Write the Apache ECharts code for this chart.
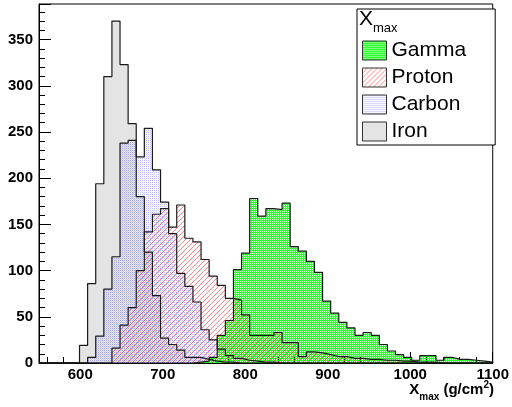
<!DOCTYPE html>
<html>
<head>
<meta charset="utf-8">
<script src="https://cdn.jsdelivr.net/npm/echarts@6/dist/echarts.min.js"></script>
<style>
html, body { margin: 0; padding: 0; background: #fff; }
#chart { width: 512px; height: 407px; }
</style>
</head>
<body>
<div id="chart"></div>
<script>
// Xmax histograms, 56 bins between 550 and 1100 g/cm2
const xLow = 550
const xHigh = 1100
const nBins = 56

const gamma = [0, 0, 0, 0, 0, 0, 0, 0, 0, 0,
    0, 0, 0, 0, 0, 0, 0, 0, 0, 1,
    2, 6, 30, 46, 101, 119, 178, 159, 167, 166,
    173, 126, 121, 110, 98, 67, 54, 44, 38, 30,
    33, 30, 20, 13, 9, 6, 3, 8, 8, 3,
    6, 4, 4, 3, 2, 1]
const proton = [0, 0, 0, 0, 0, 0, 0, 0, 0, 16,
    41, 60, 100, 142, 161, 167, 147, 171, 135, 131,
    112, 94, 84, 70, 68, 52, 30, 30, 30, 33,
    22, 22, 7, 12, 11, 9, 7, 7, 5, 5,
    4, 4, 3, 3, 2, 2, 1, 1, 1, 0,
    0, 0, 0, 0, 0, 0]
const carbon = [0, 0, 0, 0, 0, 0, 6, 29, 80, 115,
    238, 241, 223, 254, 209, 174, 140, 97, 83, 66,
    36, 25, 15, 8, 5, 3, 2, 1, 1, 0,
    0, 0, 0, 0, 0, 0, 0, 0, 0, 0,
    0, 0, 0, 0, 0, 0, 0, 0, 0, 0,
    0, 0, 0, 0, 0, 0]
const iron = [0, 0, 0, 0, 0, 19, 86, 194, 310, 370,
    323, 259, 180, 120, 73, 27, 20, 14, 6, 6,
    4, 2, 1, 1, 0, 0, 0, 0, 0, 0,
    0, 0, 0, 0, 0, 0, 0, 0, 0, 0,
    0, 0, 0, 0, 0, 0, 0, 0, 0, 0,
    0, 0, 0, 0, 0, 0]

const legendNames = ['Gamma', 'Proton', 'Carbon', 'Iron']

// small canvas patterns like the root fill styles
function pattern(size, paint) {
    const c = document.createElement('canvas')
    c.width = size
    c.height = size
    paint(c.getContext('2d'), size)
    return { image: c, repeat: 'repeat' }
}
const greenFill = pattern(2, (ctx) => {
    ctx.fillStyle = '#30ff30'
    ctx.fillRect(0, 0, 2, 1)
    ctx.fillRect(1, 1, 1, 1)
    ctx.fillStyle = 'rgba(40,255,40,0.25)'
    ctx.fillRect(0, 1, 1, 1)
})
const redFill = pattern(5, (ctx, n) => {
    ctx.fillStyle = 'rgba(255,30,30,0.55)'
    for (let k = 0; k < n; k++) ctx.fillRect(k, n - 1 - k, 1, 1)
})
const blueFill = pattern(2, (ctx) => {
    ctx.fillStyle = 'rgba(40,40,255,0.32)'
    ctx.fillRect(0, 0, 1, 1)
    ctx.fillStyle = 'rgba(40,40,255,0.08)'
    ctx.fillRect(1, 1, 1, 1)
})
const ironFill = '#e4e4e4'

const font = 'Liberation Sans'

function histSeries(name, counts, fill) {
    const w = (xHigh - xLow) / nBins
    const pts = counts.map((c, i) => [xLow + i * w, c])
    pts.push([xHigh, 0])
    return {
        name: name,
        type: 'line',
        step: 'end',
        symbol: 'none',
        silent: true,
        data: pts,
        lineStyle: { color: '#1a1a1a', width: 1.2 },
        itemStyle: { color: fill },
        areaStyle: { color: fill, opacity: 1 },
        emphasis: { disabled: true },
    }
}

const fills = { Gamma: greenFill, Proton: redFill, Carbon: blueFill, Iron: ironFill }

let option = {
    animation: false,
    backgroundColor: '#fff',
    grid: { left: 39, right: 18, top: 4, bottom: 44, show: true, borderColor: '#000', borderWidth: 1, backgroundColor: 'transparent' },
    title: [
        {
            // legend header
            text: '{x|X}{s|max}',
            left: 359,
            top: 9,
            padding: 0,
            z: 10,
            textStyle: {
                rich: {
                    x: { fontFamily: font, fontSize: 21, fontWeight: 'normal', color: '#000', verticalAlign: 'bottom', lineHeight: 26, padding: [0, 0, 5, 0] },
                    s: { fontFamily: font, fontSize: 13, fontWeight: 'normal', color: '#000', verticalAlign: 'bottom', lineHeight: 26 },
                },
            },
        },
        {
            // x axis title
            text: '{b|X}{s|max}{b| (g/cm}{p|2}{b|)}',
            right: 18,
            top: 378,
            padding: 0,
            textStyle: {
                rich: {
                    b: { fontFamily: font, fontSize: 15, fontWeight: 'bold', color: '#000', verticalAlign: 'bottom', lineHeight: 24, padding: [0, 0, 5, 0] },
                    s: { fontFamily: font, fontSize: 10, fontWeight: 'bold', color: '#000', verticalAlign: 'bottom', lineHeight: 24, padding: [0, 0, 0, 0] },
                    p: { fontFamily: font, fontSize: 10, fontWeight: 'bold', color: '#000', verticalAlign: 'bottom', lineHeight: 24, padding: [0, 0, 12, 0] },
                },
            },
        },
    ],
    legend: {
        orient: 'vertical',
        left: 357,
        top: 9,
        padding: [31, 29, 3, 5],
        itemWidth: 24,
        itemHeight: 19,
        itemGap: 6,
        backgroundColor: '#fff',
        borderColor: '#000',
        borderWidth: 1,
        selectedMode: false,
        textStyle: { fontFamily: font, fontSize: 21, color: '#000' },
        data: legendNames.map((n) => ({
            name: n,
            icon: 'rect',
            itemStyle: { color: fills[n], borderColor: '#333', borderWidth: 1 },
        })),
    },
    xAxis: {
        type: 'value',
        min: xLow,
        max: xHigh,
        minInterval: 100,
        maxInterval: 100,
        axisLine: { show: true, lineStyle: { color: '#000', width: 1 } },
        axisTick: { show: true, inside: true, length: 11, lineStyle: { color: '#000' } },
        minorTick: { show: true, splitNumber: 5, length: 6, lineStyle: { color: '#000' } },
        splitLine: { show: false },
        axisLabel: {
            showMinLabel: false,
            margin: 4,
            fontFamily: font,
            fontSize: 15,
            fontWeight: 'bold',
            color: '#000',
            formatter: (v) => String(v),
        },
    },
    yAxis: {
        type: 'value',
        min: 0,
        max: 388.5,
        interval: 50,
        axisLine: { show: true, lineStyle: { color: '#000', width: 1 } },
        axisTick: { show: true, inside: true, length: 12, lineStyle: { color: '#000' } },
        minorTick: { show: true, splitNumber: 5, length: 6, lineStyle: { color: '#000' } },
        splitLine: { show: false },
        axisLabel: { showMaxLabel: false, margin: 6, fontFamily: font, fontSize: 15, fontWeight: 'bold', color: '#000' },
    },
    series: [
        histSeries('Iron', iron, ironFill),
        histSeries('Carbon', carbon, blueFill),
        histSeries('Gamma', gamma, greenFill),
        histSeries('Proton', proton, redFill),
    ],
}

const myChart = echarts.init(document.getElementById('chart'), null, { renderer: 'canvas' })
myChart.setOption(option)
</script>
</body>
</html>
